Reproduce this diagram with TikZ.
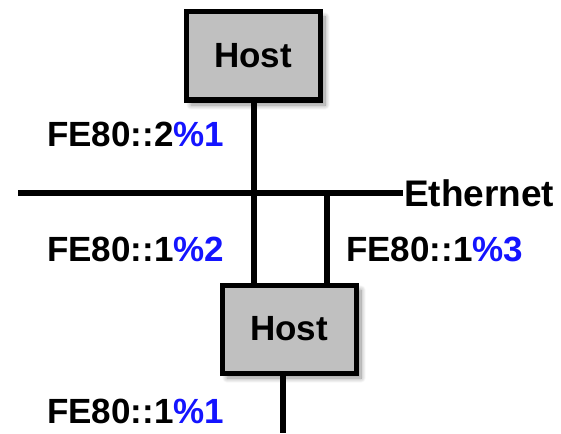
\documentclass[tikz,border=0pt]{standalone}
\usepackage{fontspec}
\setmainfont{Liberation Sans}
\usetikzlibrary{shadows.blur}
\definecolor{hostgray}{RGB}{192,192,192}
\definecolor{ifblue}{RGB}{20,20,255}
\begin{document}
\begin{tikzpicture}[x=1pt,y=-1pt,
  hostbox/.style={draw=black,line width=5pt,fill=hostgray,minimum width=134pt,minimum height=88pt,
    font=\fontsize{35}{35}\selectfont\bfseries,inner sep=0pt,
    blur shadow={shadow xshift=5pt,shadow yshift=-5pt,shadow blur radius=5pt,shadow blur steps=12,shadow opacity=45}},
  wire/.style={line width=6pt},
  lbl/.style={anchor=base west,inner sep=0pt,font=\fontsize{35}{35}\selectfont\bfseries}]
  \useasboundingbox (0,0) rectangle (561,433);
  % hosts
  \node[hostbox] (h1) at (253,56) {Host};
  \node[hostbox] (h2) at (289,329) {Host};
  % ethernet segment
  \coordinate (e1) at (18,193);
  \coordinate (e2) at (403,193);
  \coordinate (t1) at (254,193);
  \coordinate (t2) at (327,193);
  \coordinate (b2) at (283,433);
  \draw[wire] (e1) -- (e2);
  \draw[wire] (h1.south -| t1) -- (t1 |- h2.north);
  \draw[wire] (t2) -- (t2 |- h2.north);
  \draw[wire] (h2.south -| b2) -- (b2);
  \node[lbl,anchor=west,font=\fontsize{37}{37}\selectfont\bfseries] (eth) at (404,193) {Ethernet};
  % interface addresses
  \node[lbl] (a1) at (47,146) {FE80::2\textcolor{ifblue}{\%1}};
  \node[lbl] (a2) at (47,261) {FE80::1\textcolor{ifblue}{\%2}};
  \node[lbl] (a3) at (346,261) {FE80::1\textcolor{ifblue}{\%3}};
  \node[lbl] (a4) at (47,423) {FE80::1\textcolor{ifblue}{\%1}};
\end{tikzpicture}
\end{document}
